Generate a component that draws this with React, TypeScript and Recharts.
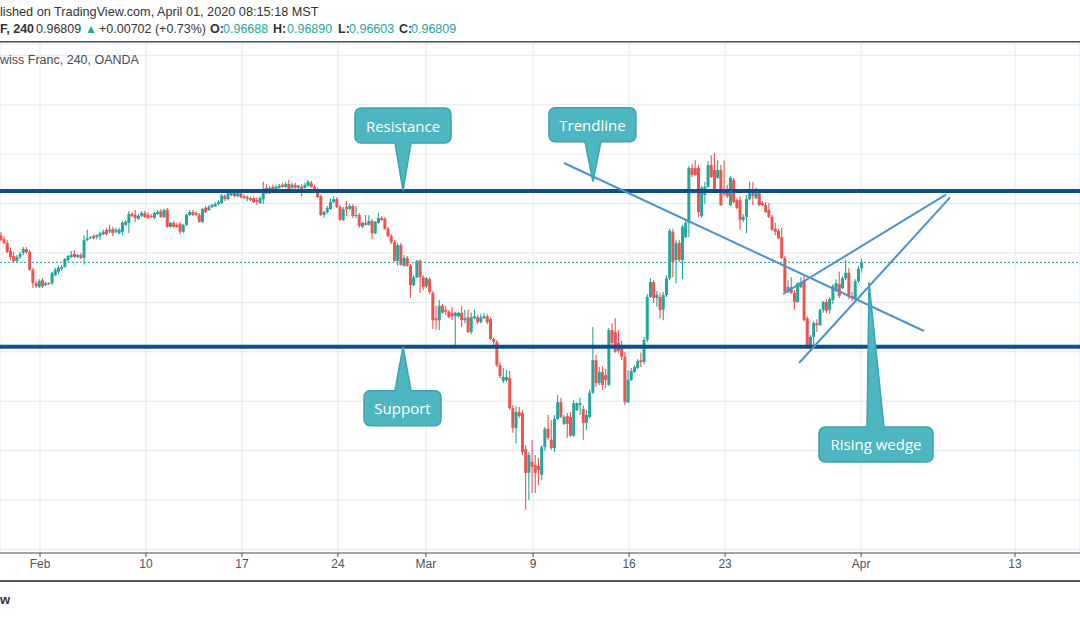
import {
  ComposedChart,
  Bar,
  XAxis,
  YAxis,
  CartesianGrid,
  ReferenceLine,
  ReferenceDot
} from "recharts";

// USD/CHF 4h candles, prices in pips (1 pip = 0.0001 CHF): [open, high, low, close]
const bars: number[][] = [
  [9736, 9742, 9724, 9726], [9728, 9734, 9718, 9720], [9720, 9726, 9700, 9702], [9704, 9710, 9686, 9692],
  [9694, 9702, 9680, 9684], [9684, 9696, 9680, 9692], [9692, 9702, 9688, 9698], [9700, 9712, 9696, 9708],
  [9708, 9712, 9698, 9702], [9702, 9706, 9664, 9666], [9666, 9670, 9629, 9639], [9639, 9643, 9629, 9633],
  [9631, 9647, 9629, 9643], [9645, 9649, 9629, 9633], [9635, 9643, 9633, 9639], [9639, 9641, 9635, 9637],
  [9639, 9662, 9635, 9660], [9655, 9670, 9653, 9666], [9662, 9674, 9657, 9670], [9668, 9676, 9664, 9672],
  [9672, 9690, 9670, 9688], [9686, 9696, 9682, 9694], [9692, 9704, 9690, 9696], [9698, 9706, 9690, 9692],
  [9692, 9698, 9690, 9696], [9696, 9700, 9688, 9690], [9690, 9736, 9676, 9726], [9726, 9747, 9724, 9730],
  [9730, 9734, 9728, 9732], [9734, 9738, 9728, 9730], [9732, 9738, 9728, 9736], [9734, 9743, 9726, 9740],
  [9738, 9747, 9736, 9743], [9747, 9751, 9736, 9738], [9743, 9757, 9740, 9747], [9749, 9753, 9734, 9740],
  [9743, 9751, 9740, 9747], [9740, 9751, 9738, 9747], [9743, 9765, 9736, 9761], [9757, 9767, 9755, 9763],
  [9761, 9785, 9740, 9779], [9779, 9783, 9773, 9775], [9777, 9787, 9763, 9771], [9769, 9779, 9767, 9775],
  [9775, 9785, 9773, 9781], [9781, 9785, 9771, 9773], [9777, 9783, 9769, 9771], [9775, 9779, 9771, 9773],
  [9771, 9783, 9769, 9781], [9779, 9787, 9777, 9783], [9785, 9789, 9771, 9773], [9773, 9789, 9771, 9787],
  [9787, 9791, 9751, 9753], [9753, 9763, 9751, 9761], [9761, 9765, 9751, 9753], [9757, 9761, 9751, 9753],
  [9759, 9763, 9738, 9743], [9743, 9759, 9740, 9757], [9757, 9779, 9755, 9777], [9777, 9787, 9775, 9783],
  [9783, 9787, 9775, 9777], [9781, 9785, 9775, 9777], [9777, 9781, 9761, 9763], [9763, 9791, 9761, 9789],
  [9791, 9795, 9781, 9783], [9787, 9797, 9785, 9793], [9793, 9799, 9791, 9797], [9795, 9803, 9793, 9799],
  [9799, 9807, 9797, 9803], [9801, 9819, 9799, 9817], [9815, 9819, 9805, 9809], [9809, 9825, 9807, 9821],
  [9817, 9828, 9815, 9823], [9821, 9825, 9813, 9815], [9815, 9825, 9813, 9821], [9821, 9825, 9811, 9813],
  [9815, 9819, 9809, 9811], [9809, 9817, 9805, 9813], [9811, 9815, 9805, 9807], [9811, 9815, 9801, 9803],
  [9807, 9813, 9797, 9803], [9801, 9815, 9799, 9811], [9809, 9844, 9799, 9830], [9832, 9840, 9819, 9821],
  [9821, 9836, 9819, 9832], [9834, 9838, 9825, 9828], [9828, 9838, 9825, 9834], [9832, 9840, 9830, 9836],
  [9838, 9842, 9832, 9834], [9834, 9844, 9832, 9840], [9840, 9848, 9821, 9825], [9832, 9842, 9830, 9838],
  [9838, 9842, 9830, 9832], [9832, 9838, 9830, 9836], [9834, 9840, 9815, 9828], [9832, 9842, 9830, 9838],
  [9836, 9848, 9834, 9844], [9842, 9846, 9832, 9834], [9834, 9838, 9828, 9830], [9828, 9832, 9811, 9813],
  [9815, 9819, 9775, 9777], [9777, 9785, 9771, 9783], [9783, 9795, 9779, 9791], [9789, 9811, 9787, 9803],
  [9803, 9815, 9801, 9809], [9809, 9813, 9791, 9793], [9793, 9797, 9765, 9767], [9767, 9793, 9765, 9789],
  [9793, 9805, 9775, 9789], [9789, 9799, 9787, 9795], [9795, 9799, 9771, 9775], [9775, 9795, 9771, 9777],
  [9777, 9781, 9751, 9755], [9753, 9763, 9751, 9761], [9761, 9777, 9755, 9757], [9757, 9777, 9755, 9765],
  [9765, 9769, 9728, 9740], [9740, 9765, 9738, 9763], [9761, 9781, 9759, 9771], [9771, 9775, 9765, 9767],
  [9769, 9773, 9747, 9749], [9749, 9753, 9732, 9734], [9734, 9738, 9718, 9722], [9722, 9726, 9682, 9684],
  [9684, 9720, 9674, 9716], [9716, 9720, 9674, 9676], [9674, 9696, 9672, 9690], [9690, 9694, 9672, 9674],
  [9674, 9678, 9609, 9635], [9635, 9655, 9633, 9651], [9651, 9686, 9649, 9684], [9684, 9688, 9619, 9651],
  [9651, 9655, 9625, 9631], [9633, 9651, 9629, 9649], [9647, 9651, 9617, 9621], [9619, 9623, 9546, 9564],
  [9568, 9593, 9544, 9564], [9564, 9605, 9544, 9593], [9593, 9597, 9577, 9579], [9585, 9593, 9575, 9581],
  [9581, 9585, 9568, 9570], [9579, 9591, 9564, 9572], [9572, 9581, 9514, 9579], [9572, 9581, 9570, 9579],
  [9579, 9593, 9550, 9564], [9564, 9585, 9558, 9568], [9570, 9585, 9538, 9540], [9540, 9579, 9536, 9570],
  [9568, 9585, 9566, 9572], [9570, 9575, 9556, 9560], [9560, 9577, 9558, 9570], [9568, 9579, 9566, 9572],
  [9572, 9577, 9556, 9560], [9566, 9570, 9524, 9526], [9526, 9528, 9514, 9520], [9520, 9524, 9469, 9473],
  [9473, 9479, 9447, 9451], [9441, 9467, 9437, 9449], [9443, 9463, 9439, 9449], [9447, 9461, 9382, 9386],
  [9386, 9392, 9336, 9346], [9346, 9390, 9315, 9378], [9378, 9388, 9366, 9370], [9376, 9382, 9291, 9297],
  [9303, 9311, 9180, 9255], [9255, 9297, 9200, 9291], [9277, 9322, 9214, 9267], [9271, 9291, 9214, 9255],
  [9269, 9285, 9230, 9261], [9251, 9311, 9241, 9307], [9307, 9348, 9299, 9344], [9344, 9372, 9322, 9326],
  [9322, 9362, 9301, 9305], [9305, 9372, 9297, 9364], [9364, 9413, 9362, 9398], [9398, 9407, 9366, 9368],
  [9354, 9372, 9352, 9368], [9370, 9376, 9326, 9354], [9368, 9378, 9328, 9330], [9330, 9402, 9328, 9396],
  [9382, 9398, 9380, 9396], [9392, 9407, 9372, 9396], [9384, 9392, 9322, 9356], [9356, 9382, 9342, 9372],
  [9368, 9423, 9366, 9417], [9417, 9550, 9415, 9483], [9483, 9494, 9429, 9437], [9437, 9469, 9433, 9459],
  [9459, 9471, 9423, 9433], [9453, 9465, 9427, 9443], [9433, 9548, 9431, 9544], [9544, 9558, 9514, 9518],
  [9540, 9568, 9498, 9500], [9518, 9544, 9498, 9502], [9514, 9522, 9483, 9490], [9490, 9500, 9392, 9398],
  [9398, 9463, 9396, 9443], [9443, 9467, 9441, 9461], [9459, 9473, 9457, 9469], [9467, 9485, 9465, 9481],
  [9483, 9498, 9469, 9479], [9479, 9530, 9475, 9524], [9524, 9617, 9520, 9611], [9611, 9649, 9609, 9641],
  [9641, 9645, 9599, 9609], [9609, 9623, 9591, 9615], [9611, 9619, 9568, 9585], [9585, 9621, 9564, 9615],
  [9615, 9655, 9611, 9649], [9649, 9749, 9645, 9745], [9743, 9749, 9651, 9682], [9686, 9726, 9639, 9720],
  [9720, 9726, 9682, 9686], [9686, 9757, 9647, 9753], [9732, 9767, 9730, 9761], [9761, 9876, 9732, 9872],
  [9872, 9880, 9854, 9858], [9872, 9888, 9856, 9858], [9872, 9878, 9773, 9783], [9775, 9836, 9771, 9832],
  [9817, 9844, 9799, 9834], [9834, 9886, 9832, 9878], [9878, 9898, 9852, 9854], [9868, 9902, 9823, 9828],
  [9852, 9888, 9850, 9868], [9868, 9878, 9795, 9797], [9828, 9888, 9815, 9819], [9828, 9838, 9811, 9815],
  [9797, 9856, 9795, 9852], [9848, 9852, 9801, 9803], [9807, 9811, 9789, 9791], [9807, 9815, 9747, 9767],
  [9767, 9779, 9763, 9773], [9773, 9817, 9740, 9809], [9809, 9844, 9807, 9821], [9821, 9844, 9797, 9815],
  [9811, 9832, 9809, 9821], [9821, 9825, 9795, 9797], [9801, 9805, 9795, 9797], [9797, 9803, 9781, 9783],
  [9787, 9801, 9771, 9773], [9773, 9777, 9745, 9747], [9749, 9761, 9736, 9743], [9745, 9749, 9728, 9730],
  [9732, 9751, 9688, 9690], [9690, 9694, 9619, 9621], [9621, 9645, 9619, 9631], [9631, 9651, 9617, 9619],
  [9619, 9625, 9585, 9601], [9601, 9641, 9599, 9639], [9631, 9651, 9629, 9641], [9645, 9655, 9562, 9564],
  [9568, 9572, 9508, 9510], [9510, 9534, 9504, 9530], [9530, 9562, 9514, 9558], [9558, 9566, 9540, 9554],
  [9554, 9587, 9552, 9585], [9585, 9603, 9579, 9601], [9601, 9607, 9579, 9583], [9585, 9611, 9577, 9607],
  [9605, 9637, 9597, 9633], [9625, 9647, 9621, 9639], [9637, 9662, 9609, 9613], [9629, 9653, 9627, 9649],
  [9649, 9686, 9645, 9660], [9660, 9670, 9607, 9611], [9613, 9621, 9603, 9609], [9609, 9647, 9605, 9643],
  [9643, 9674, 9639, 9668], [9668.8, 9689.0, 9660.3, 9680.9]
];

// time axis: bar index of each date label
const tickBars = [12.2, 45.3, 75.3, 105.3, 132.8, 166.3, 196.3, 226.3, 268.8, 316.9];
const tickLabels = ["Feb", "10", "17", "24", "Mar", "9", "16", "23", "Apr", "13"];
const gridPrices = [9100, 9200, 9300, 9400, 9500, 9600, 9700, 9800, 9900, 10000, 10100];

const resistance = 9825.5;
const support = 9510.3;
const lastClose = 9680.9;

// drawn lines: [bar, price] pairs
const trendlines = [
  [[175.95, 9882.2], [288.45, 9542.1]],
  [[244.4, 9617.0], [295.3, 9818.0]],
  [[249.4, 9477.4], [296.6, 9812.5]]
];

const calloutTexts = ["Resistance", "Trendline", "Support", "Rising wedge"];
const calloutBars = [125.64, 185.0, 125.64, 271.26];
const calloutPrices = [9825.5, 9844.3, 9510.3, 9641.3];

// balloon shape around the pointer tip (pixels)
const calloutShapes = [
  { box: [-48, -83, 48, -48], base: [-8, 8], side: "bottom" },
  { box: [-44, -74, 43, -40], base: [-8, 8], side: "bottom" },
  { box: [-39, 44, 38, 79], base: [-8, 8], side: "top" },
  { box: [-50, 145, 64, 180], base: [-2, 15], side: "top" }
];

const UP = "#26a69a";
const DOWN = "#ef5350";
const FONT = "'Liberation Sans', Arial, sans-serif";

const data = bars.map(([o, h, l, c], i) => ({ t: i, range: [l, h], o, h, l, c }));

function Candle(props: any) {
  const { x, y, width, height, payload } = props;
  if (x == null || payload == null) return null;
  const { o, h, l, c } = payload;
  const top = Math.min(y, y + height);
  const span = Math.abs(height);
  const py = (v: number) => top + ((h - v) / (h - l)) * span;
  const color = c >= o ? UP : DOWN;
  const cx = x + width / 2;
  const bTop = py(Math.max(o, c));
  const bBot = py(Math.min(o, c));
  return (
    <g>
      <line x1={cx} x2={cx} y1={top} y2={top + span} stroke={color} strokeWidth={1.1} />
      <rect x={x} y={bTop} width={width} height={Math.max(1, bBot - bTop)} fill={color} />
    </g>
  );
}

function Callout({ cx, cy, text, shape }: any) {
  const x0 = cx + shape.box[0], y0 = cy + shape.box[1];
  const x1 = cx + shape.box[2], y1 = cy + shape.box[3];
  const bx0 = cx + shape.base[0], bx1 = cx + shape.base[1];
  const r = 6;
  const d =
    shape.side === "bottom"
      ? `M${x0 + r},${y0} H${x1 - r} A${r},${r} 0 0 1 ${x1},${y0 + r} V${y1 - r} A${r},${r} 0 0 1 ${x1 - r},${y1} H${bx1} L${cx},${cy} L${bx0},${y1} H${x0 + r} A${r},${r} 0 0 1 ${x0},${y1 - r} V${y0 + r} A${r},${r} 0 0 1 ${x0 + r},${y0} Z`
      : `M${x0 + r},${y0} H${bx0} L${cx},${cy} L${bx1},${y0} H${x1 - r} A${r},${r} 0 0 1 ${x1},${y0 + r} V${y1 - r} A${r},${r} 0 0 1 ${x1 - r},${y1} H${x0 + r} A${r},${r} 0 0 1 ${x0},${y1 - r} V${y0 + r} A${r},${r} 0 0 1 ${x0 + r},${y0} Z`;
  return (
    <g>
      <path d={d} fill="#4db6c0" stroke="#38a5b1" strokeWidth={1.5} />
      <text
        x={(x0 + x1) / 2}
        y={(y0 + y1) / 2}
        textAnchor="middle"
        dominantBaseline="central"
        fill="#ffffff"
        fontSize={15}
        fontFamily="'Open Sans', sans-serif"
      >
        {text}
      </text>
    </g>
  );
}

const quote = [
  { text: "F, 240", x: 0, bold: true, color: "#333" },
  { text: "0.96809", x: 36, color: "#333" },
  { text: "▲", x: 85, color: UP },
  { text: "+0.00702 (+0.73%)", x: 99, color: "#333" },
  { text: "O:", x: 210, bold: true, color: "#333" },
  { text: "0.96688", x: 223, color: UP },
  { text: "H:", x: 273, bold: true, color: "#333" },
  { text: "0.96890", x: 287, color: UP },
  { text: "L:", x: 338, bold: true, color: "#333" },
  { text: "0.96603", x: 349, color: UP },
  { text: "C:", x: 399, bold: true, color: "#333" },
  { text: "0.96809", x: 411, color: UP }
];

export default function App() {
  return (
    <div
      style={{
        position: "absolute",
        left: 0,
        top: 0,
        width: 1080,
        height: 618,
        overflow: "hidden",
        background: "#fff",
        fontFamily: FONT
      }}
    >
      {/* header */}
      <div style={{ position: "absolute", left: 0, top: 5, fontSize: 12.7, lineHeight: "15px", color: "#333", whiteSpace: "nowrap" }}>
        lished on TradingView.com, April 01, 2020 08:15:18 MST
      </div>
      {quote.map((q, i) => (
        <span
          key={i}
          style={{
            position: "absolute",
            left: q.x,
            top: 22,
            fontSize: q.text === "▲" ? 12 : 12.5,
            lineHeight: "15px",
            fontWeight: q.bold ? 700 : 400,
            color: q.color,
            whiteSpace: "nowrap"
          }}
        >
          {q.text}
        </span>
      ))}
      <div style={{ position: "absolute", left: 0, top: 41, width: 1080, height: 2, background: "#555" }} />

      {/* chart */}
      <div style={{ position: "absolute", left: 0, top: 42 }}>
        <ComposedChart width={1080} height={539} data={data} margin={{ top: 1, right: 0, bottom: 0, left: 0 }}>
          <CartesianGrid stroke="#e1e9f1" strokeWidth={1} />
          <XAxis
            dataKey="t"
            type="number"
            domain={[-0.3, 337.2]}
            allowDataOverflow
            ticks={tickBars}
            tickFormatter={(v: number) => tickLabels[tickBars.indexOf(v)] ?? ""}
            height={28}
            axisLine={{ stroke: "#4f525c" }}
            tickLine={{ stroke: "#4f525c" }}
            tickSize={4}
            tick={{ fill: "#50535e", fontSize: 12, fontFamily: FONT }}
            interval={0}
          />
          <YAxis hide domain={[9092.7, 10125.1]} ticks={gridPrices} allowDataOverflow />
          <Bar dataKey="range" barSize={3} shape={Candle} isAnimationActive={false} />
          <ReferenceLine y={lastClose} stroke={UP} strokeDasharray="2 2" strokeWidth={1} />
          <ReferenceLine y={resistance} stroke="#0d4e8d" strokeWidth={4} />
          <ReferenceLine y={support} stroke="#0d4e8d" strokeWidth={4} />
          {trendlines.map((seg, i) => (
            <ReferenceLine
              key={i}
              segment={[
                { x: seg[0][0], y: seg[0][1] },
                { x: seg[1][0], y: seg[1][1] }
              ]}
              stroke="#4a94cc"
              strokeWidth={2}
            />
          ))}
          {calloutTexts.map((text, i) => (
            <ReferenceDot
              key={text}
              x={calloutBars[i]}
              y={calloutPrices[i]}
              r={0}
              shape={(p: any) => <Callout cx={p.cx} cy={p.cy} text={text} shape={calloutShapes[i]} />}
            />
          ))}
        </ComposedChart>
      </div>

      <div style={{ position: "absolute", left: 0, top: 53, fontSize: 12.5, lineHeight: "15px", color: "#4a4a4a", whiteSpace: "nowrap" }}>
        wiss Franc, 240, OANDA
      </div>
      <div style={{ position: "absolute", left: 0, top: 580, width: 1080, height: 2, background: "#555" }} />
      <div style={{ position: "absolute", left: 0, top: 592, fontSize: 13, lineHeight: "15px", fontWeight: 700, color: "#333" }}>
        w
      </div>
    </div>
  );
}
